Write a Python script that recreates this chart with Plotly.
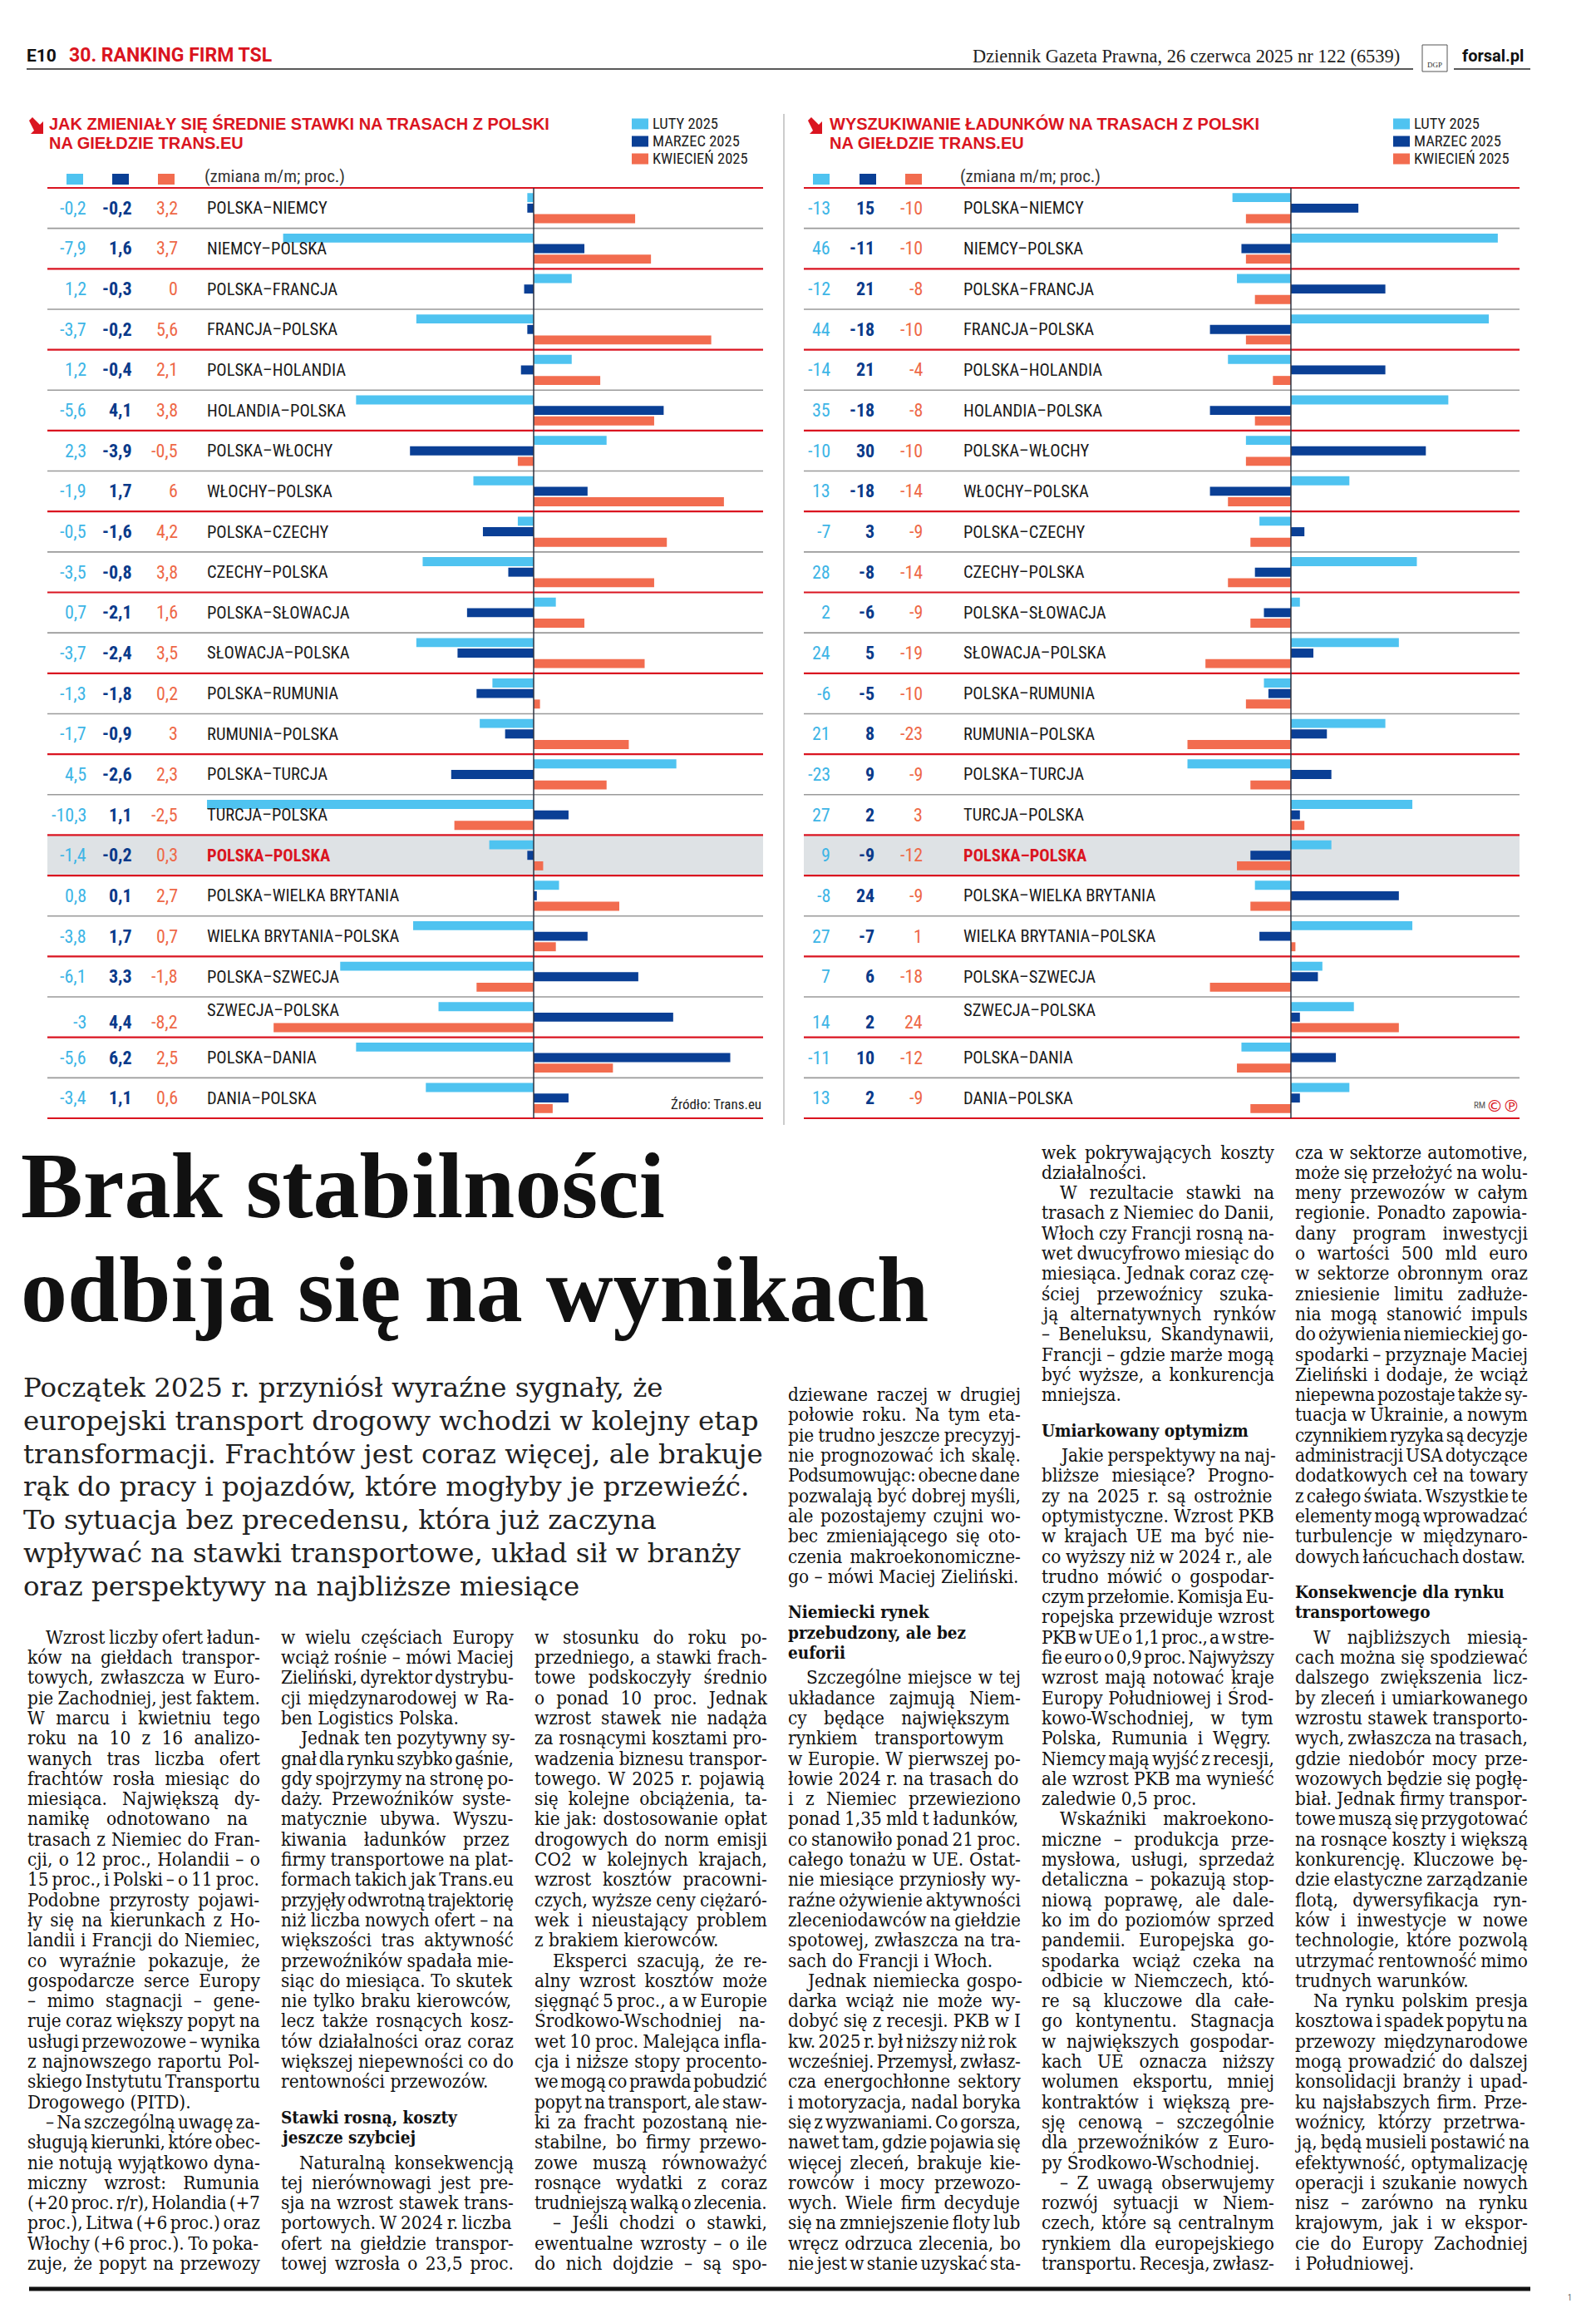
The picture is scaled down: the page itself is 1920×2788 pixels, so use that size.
import os
import glob
import struct
import plotly.graph_objects as go

W, H = 1920, 2788

# ---------------- DATA ----------------
routes = ["POLSKA–NIEMCY", "NIEMCY–POLSKA", "POLSKA–FRANCJA", "FRANCJA–POLSKA",
          "POLSKA–HOLANDIA", "HOLANDIA–POLSKA", "POLSKA–WŁOCHY", "WŁOCHY–POLSKA",
          "POLSKA–CZECHY", "CZECHY–POLSKA", "POLSKA–SŁOWACJA", "SŁOWACJA–POLSKA",
          "POLSKA–RUMUNIA", "RUMUNIA–POLSKA", "POLSKA–TURCJA", "TURCJA–POLSKA",
          "POLSKA–POLSKA", "POLSKA–WIELKA BRYTANIA", "WIELKA BRYTANIA–POLSKA",
          "POLSKA–SZWECJA", "SZWECJA–POLSKA", "POLSKA–DANIA", "DANIA–POLSKA"]
months = ["LUTY 2025", "MARZEC 2025", "KWIECIEŃ 2025"]

rates_luty = [-0.2, -7.9, 1.2, -3.7, 1.2, -5.6, 2.3, -1.9, -0.5, -3.5, 0.7, -3.7,
              -1.3, -1.7, 4.5, -10.3, -1.4, 0.8, -3.8, -6.1, -3, -5.6, -3.4]
rates_marzec = [-0.2, 1.6, -0.3, -0.2, -0.4, 4.1, -3.9, 1.7, -1.6, -0.8, -2.1, -2.4,
                -1.8, -0.9, -2.6, 1.1, -0.2, 0.1, 1.7, 3.3, 4.4, 6.2, 1.1]
rates_kwiecien = [3.2, 3.7, 0, 5.6, 2.1, 3.8, -0.5, 6, 4.2, 3.8, 1.6, 3.5,
                  0.2, 3, 2.3, -2.5, 0.3, 2.7, 0.7, -1.8, -8.2, 2.5, 0.6]

search_luty = [-13, 46, -12, 44, -14, 35, -10, 13, -7, 28, 2, 24,
               -6, 21, -23, 27, 9, -8, 27, 7, 14, -11, 13]
search_marzec = [15, -11, 21, -18, 21, -18, 30, -18, 3, -8, -6, 5,
                 -5, 8, 9, 2, -9, 24, -7, 6, 2, 10, 2]
search_kwiecien = [-10, -10, -8, -10, -4, -8, -10, -14, -9, -14, -9, -19,
                   -10, -23, -9, 3, -12, -9, 1, -18, 24, -12, -9]

title_left = ["JAK ZMIENIAŁY SIĘ ŚREDNIE STAWKI NA TRASACH Z POLSKI", "NA GIEŁDZIE TRANS.EU"]
title_right = ["WYSZUKIWANIE ŁADUNKÓW NA TRASACH Z POLSKI", "NA GIEŁDZIE TRANS.EU"]

headline = ["Brak stabilności", "odbija się na wynikach"]
lead = ["Początek 2025 r. przyniósł wyraźne sygnały, że",
        "europejski transport drogowy wchodzi w kolejny etap",
        "transformacji. Frachtów jest coraz więcej, ale brakuje",
        "rąk do pracy i pojazdów, które mogłyby je przewieźć.",
        "To sytuacja bez precedensu, która już zaczyna",
        "wpływać na stawki transportowe, układ sił w branży",
        "oraz perspektywy na najbliższe miesiące"]

# "^" = paragraph indent, "#" = bold subheading, "" = empty line
col1 = ["^Wzrost liczby ofert ładun-", "ków na giełdach transpor-", "towych, zwłaszcza w Euro-",
        "pie Zachodniej, jest faktem.", "W marcu i kwietniu tego", "roku na 10 z 16 analizo-",
        "wanych tras liczba ofert", "frachtów rosła miesiąc do", "miesiąca. Największą dy-",
        "namikę odnotowano na", "trasach z Niemiec do Fran-", "cji, o 12 proc., Holandii – o",
        "15 proc., i Polski – o 11 proc.", "Podobne przyrosty pojawi-", "ły się na kierunkach z Ho-",
        "landii i Francji do Niemiec,", "co wyraźnie pokazuje, że", "gospodarcze serce Europy",
        "– mimo stagnacji – gene-", "ruje coraz większy popyt na", "usługi przewozowe – wynika",
        "z najnowszego raportu Pol-", "skiego Instytutu Transportu", "Drogowego (PITD).",
        "^– Na szczególną uwagę za-", "sługują kierunki, które obec-", "nie notują wyjątkowo dyna-",
        "miczny wzrost: Rumunia", "(+20 proc. r/r), Holandia (+7", "proc.), Litwa (+6 proc.) oraz",
        "Włochy (+6 proc.). To poka-", "zuje, że popyt na przewozy"]
col2 = ["w wielu częściach Europy", "wciąż rośnie – mówi Maciej", "Zieliński, dyrektor dystrybu-",
        "cji międzynarodowej w Ra-", "ben Logistics Polska.", "^Jednak ten pozytywny sy-",
        "gnał dla rynku szybko gaśnie,", "gdy spojrzymy na stronę po-", "daży. Przewoźników syste-",
        "matycznie ubywa. Wyszu-", "kiwania ładunków przez", "firmy transportowe na plat-",
        "formach takich jak Trans.eu", "przyjęły odwrotną trajektorię", "niż liczba nowych ofert – na",
        "większości tras aktywność", "przewoźników spadała mie-", "siąc do miesiąca. To skutek",
        "nie tylko braku kierowców,", "lecz także rosnących kosz-", "tów działalności oraz coraz",
        "większej niepewności co do", "rentowności przewozów.", "",
        "#Stawki rosną, koszty", "#jeszcze szybciej", "^Naturalną konsekwencją",
        "tej nierównowagi jest pre-", "sja na wzrost stawek trans-", "portowych. W 2024 r. liczba",
        "ofert na giełdzie transpor-", "towej wzrosła o 23,5 proc."]
col3 = ["w stosunku do roku po-", "przedniego, a stawki frach-", "towe podskoczyły średnio",
        "o ponad 10 proc. Jednak", "wzrost stawek nie nadąża", "za rosnącymi kosztami pro-",
        "wadzenia biznesu transpor-", "towego. W 2025 r. pojawią", "się kolejne obciążenia, ta-",
        "kie jak: dostosowanie opłat", "drogowych do norm emisji", "CO2 w kolejnych krajach,",
        "wzrost kosztów pracowni-", "czych, wyższe ceny ciężaró-", "wek i nieustający problem",
        "z brakiem kierowców.", "^Eksperci szacują, że re-", "alny wzrost kosztów może",
        "sięgnąć 5 proc., a w Europie", "Środkowo-Wschodniej na-", "wet 10 proc. Malejąca infla-",
        "cja i niższe stopy procento-", "we mogą co prawda pobudzić", "popyt na transport, ale staw-",
        "ki za fracht pozostaną nie-", "stabilne, bo firmy przewo-", "zowe muszą równoważyć",
        "rosnące wydatki z coraz", "trudniejszą walką o zlecenia.", "^– Jeśli chodzi o stawki,",
        "ewentualne wzrosty – o ile", "do nich dojdzie – są spo-"]
col4 = ["dziewane raczej w drugiej", "połowie roku. Na tym eta-", "pie trudno jeszcze precyzyj-",
        "nie prognozować ich skalę.", "Podsumowując: obecne dane", "pozwalają być dobrej myśli,",
        "ale pozostajemy czujni wo-", "bec zmieniającego się oto-", "czenia makroekonomiczne-",
        "go – mówi Maciej Zieliński.", "", "#Niemiecki rynek", "#przebudzony, ale bez", "#euforii",
        "^Szczególne miejsce w tej", "układance zajmują Niem-", "cy będące największym",
        "rynkiem transportowym", "w Europie. W pierwszej po-", "łowie 2024 r. na trasach do",
        "i z Niemiec przewieziono", "ponad 1,35 mld t ładunków,", "co stanowiło ponad 21 proc.",
        "całego tonażu w UE. Ostat-", "nie miesiące przyniosły wy-", "raźne ożywienie aktywności",
        "zleceniodawców na giełdzie", "spotowej, zwłaszcza na tra-", "sach do Francji i Włoch.",
        "^Jednak niemiecka gospo-", "darka wciąż nie może wy-", "dobyć się z recesji. PKB w I",
        "kw. 2025 r. był niższy niż rok", "wcześniej. Przemysł, zwłasz-", "cza energochłonne sektory",
        "i motoryzacja, nadal boryka", "się z wyzwaniami. Co gorsza,", "nawet tam, gdzie pojawia się",
        "więcej zleceń, brakuje kie-", "rowców i mocy przewozo-", "wych. Wiele firm decyduje",
        "się na zmniejszenie floty lub", "wręcz odrzuca zlecenia, bo", "nie jest w stanie uzyskać sta-"]
col5 = ["wek pokrywających koszty", "działalności.", "^W rezultacie stawki na",
        "trasach z Niemiec do Danii,", "Włoch czy Francji rosną na-", "wet dwucyfrowo miesiąc do",
        "miesiąca. Jednak coraz czę-", "ściej przewoźnicy szuka-", "ją alternatywnych rynków",
        "– Beneluksu, Skandynawii,", "Francji – gdzie marże mogą", "być wyższe, a konkurencja",
        "mniejsza.", "", "#Umiarkowany optymizm", "^Jakie perspektywy na naj-",
        "bliższe miesiące? Progno-", "zy na 2025 r. są ostrożnie", "optymistyczne. Wzrost PKB",
        "w krajach UE ma być nie-", "co wyższy niż w 2024 r., ale", "trudno mówić o gospodar-",
        "czym przełomie. Komisja Eu-", "ropejska przewiduje wzrost", "PKB w UE o 1,1 proc., a w stre-",
        "fie euro o 0,9 proc. Najwyższy", "wzrost mają notować kraje", "Europy Południowej i Środ-",
        "kowo-Wschodniej, w tym", "Polska, Rumunia i Węgry.", "Niemcy mają wyjść z recesji,",
        "ale wzrost PKB ma wynieść", "zaledwie 0,5 proc.", "^Wskaźniki makroekono-",
        "miczne – produkcja prze-", "mysłowa, usługi, sprzedaż", "detaliczna – pokazują stop-",
        "niową poprawę, ale dale-", "ko im do poziomów sprzed", "pandemii. Europejska go-",
        "spodarka wciąż czeka na", "odbicie w Niemczech, któ-", "re są kluczowe dla całe-",
        "go kontynentu. Stagnacja", "w największych gospodar-", "kach UE oznacza niższy",
        "wolumen eksportu, mniej", "kontraktów i większą pre-", "sję cenową – szczególnie",
        "dla przewoźników z Euro-", "py Środkowo-Wschodniej.", "^– Z uwagą obserwujemy",
        "rozwój sytuacji w Niem-", "czech, które są centralnym", "rynkiem dla europejskiego",
        "transportu. Recesja, zwłasz-"]
col6 = ["cza w sektorze automotive,", "może się przełożyć na wolu-", "meny przewozów w całym",
        "regionie. Ponadto zapowia-", "dany program inwestycji", "o wartości 500 mld euro",
        "w sektorze obronnym oraz", "zniesienie limitu zadłuże-", "nia mogą stanowić impuls",
        "do ożywienia niemieckiej go-", "spodarki – przyznaje Maciej", "Zieliński i dodaje, że wciąż",
        "niepewna pozostaje także sy-", "tuacja w Ukrainie, a nowym", "czynnikiem ryzyka są decyzje",
        "administracji USA dotyczące", "dodatkowych ceł na towary", "z całego świata. Wszystkie te",
        "elementy mogą wprowadzać", "turbulencje w międzynaro-", "dowych łańcuchach dostaw.", "",
        "#Konsekwencje dla rynku", "#transportowego", "^W najbliższych miesią-",
        "cach można się spodziewać", "dalszego zwiększenia licz-", "by zleceń i umiarkowanego",
        "wzrostu stawek transporto-", "wych, zwłaszcza na trasach,", "gdzie niedobór mocy prze-",
        "wozowych będzie się pogłę-", "biał. Jednak firmy transpor-", "towe muszą się przygotować",
        "na rosnące koszty i większą", "konkurencję. Kluczowe bę-", "dzie elastyczne zarządzanie",
        "flotą, dywersyfikacja ryn-", "ków i inwestycje w nowe", "technologie, które pozwolą",
        "utrzymać rentowność mimo", "trudnych warunków.", "^Na rynku polskim presja",
        "kosztowa i spadek popytu na", "przewozy międzynarodowe", "mogą prowadzić do dalszej",
        "konsolidacji branży i upad-", "ku najsłabszych firm. Prze-", "woźnicy, którzy przetrwa-",
        "ją, będą musieli postawić na", "efektywność, optymalizację", "operacji i szukanie nowych",
        "nisz – zarówno na rynku", "krajowym, jak i w ekspor-", "cie do Europy Zachodniej",
        "i Południowej."]
columns = [col1, col2, col3, col4, col5, col6]

# ---------------- STYLE ----------------
C_LIGHT, C_DARK, C_ORANGE = "#4FC3F0", "#0A3F95", "#F26C4F"
T_LIGHT, T_DARK, T_ORANGE = "#3DB5E6", "#0A3A8A", "#EE6847"
RED = "#DA1420"
GRAY_LINE = "#9A9A9A"
SANS = "Liberation Sans Narrow, Roboto Condensed, Roboto"

ROW_TOP, ROW_BOT = 218.0, 1337.0
ROW_H = (ROW_BOT - ROW_TOP) / len(routes)


# ---------- font metrics (for justified body text) ----------
def find_font(name):
    for base in ["/usr/share/fonts", "/usr/local/share/fonts",
                 os.path.expanduser("~/.fonts"), os.path.expanduser("~/.local/share/fonts")]:
        try:
            hits = glob.glob(os.path.join(base, "**", name), recursive=True)
        except Exception:
            hits = []
        if hits:
            return hits[0]
    return None


def load_metrics(path):
    with open(path, "rb") as f:
        data = f.read()
    num = struct.unpack(">H", data[4:6])[0]
    tables = {}
    for i in range(num):
        tag, _, off, ln = struct.unpack(">4sIII", data[12 + 16 * i:28 + 16 * i])
        tables[tag.decode("latin-1")] = off
    head = tables["head"]
    upem = struct.unpack(">H", data[head + 18:head + 20])[0]
    hhea = tables["hhea"]
    nhm = struct.unpack(">H", data[hhea + 34:hhea + 36])[0]
    hmtx = tables["hmtx"]
    adv = [struct.unpack(">H", data[hmtx + 4 * i:hmtx + 4 * i + 2])[0] for i in range(nhm)]
    cmap = tables["cmap"]
    nsub = struct.unpack(">H", data[cmap + 2:cmap + 4])[0]
    sub = None
    for i in range(nsub):
        pid, eid, off = struct.unpack(">HHI", data[cmap + 4 + 8 * i:cmap + 12 + 8 * i])
        fmt_ = struct.unpack(">H", data[cmap + off:cmap + off + 2])[0]
        if fmt_ == 4 and (sub is None or (pid == 3 and eid == 1)):
            sub = cmap + off
    seg2 = struct.unpack(">H", data[sub + 6:sub + 8])[0]
    seg = seg2 // 2
    ends = struct.unpack(">%dH" % seg, data[sub + 14:sub + 14 + seg2])
    starts = struct.unpack(">%dH" % seg, data[sub + 16 + seg2:sub + 16 + 2 * seg2])
    deltas = struct.unpack(">%dh" % seg, data[sub + 16 + 2 * seg2:sub + 16 + 3 * seg2])
    rpos = sub + 16 + 3 * seg2
    roffs = struct.unpack(">%dH" % seg, data[rpos:rpos + seg2])
    cache = {}

    def glyph(c):
        for i in range(seg):
            if ends[i] >= c:
                if starts[i] > c:
                    return 0
                if roffs[i] == 0:
                    return (c + deltas[i]) & 0xFFFF
                addr = rpos + 2 * i + roffs[i] + 2 * (c - starts[i])
                g = struct.unpack(">H", data[addr:addr + 2])[0]
                return (g + deltas[i]) & 0xFFFF if g else 0
        return 0

    def adv_of(ch):
        if ch not in cache:
            g = glyph(ord(ch))
            cache[ch] = (adv[g] if g < nhm else adv[-1]) / upem
        return cache[ch]

    def width(s, size):
        return sum(adv_of(ch) for ch in s) * size

    return width


BODY_FAMILY, width_fn = "DejaVu Serif", None
try:
    cond = find_font("DejaVuSerifCondensed.ttf")
    reg = find_font("DejaVuSerif.ttf")
    if cond:
        BODY_FAMILY, width_fn = "DejaVu Serif Condensed", load_metrics(cond)
    elif reg:
        width_fn = load_metrics(reg)
except Exception:
    width_fn = None

COL_W = 280.0
body_lines = [l.lstrip("^") for c in columns for l in c if l and not l.startswith("#")]
if width_fn:
    ws_ = sorted(width_fn(l, 1.0) for l in body_lines)
    BODY_SIZE = COL_W / ws_[int(len(ws_) * 0.68)]
    BODY_SIZE = max(18.0, min(25.0, BODY_SIZE))
else:
    BODY_SIZE = 20.0


def px(x):
    return x / W


def py(y):
    return 1 - y / H


annotations = []
shapes = []


def txt(x, y, text, size, color="#1a1a1a", family=SANS, xanchor="left",
        yanchor="middle", weight="normal", align="left"):
    annotations.append(dict(xref="paper", yref="paper", x=px(x), y=py(y), text=text,
                            showarrow=False, xanchor=xanchor, yanchor=yanchor, align=align,
                            font=dict(size=size, color=color, family=family, weight=weight)))


def line(x0, y0, x1, y1, color, width):
    shapes.append(dict(type="line", xref="paper", yref="paper", x0=px(x0), x1=px(x1),
                       y0=py(y0), y1=py(y1), line=dict(color=color, width=width)))


def rect(x0, y0, x1, y1, fill, layer="above", lc=None, lw=0):
    shapes.append(dict(type="rect", xref="paper", yref="paper", x0=px(x0), x1=px(x1),
                       y0=py(y0), y1=py(y1), fillcolor=fill, layer=layer,
                       line=dict(width=lw, color=lc or fill)))


def fmt(v):
    return f"{v:g}".replace(".", ",")


def arrow_icon(x, y):
    # bold red arrow pointing down-right (box ~18x20 px, top-left at x,y)
    pts = [(x + 0, y + 4), (x + 4, y + 0), (x + 13, y + 9), (x + 17, y + 5),
           (x + 17, y + 20), (x + 2, y + 20), (x + 6, y + 16)]
    d = "M " + " L ".join(f"{px(a):.6f},{py(b):.6f}" for a, b in pts) + " Z"
    shapes.append(dict(type="path", xref="paper", yref="paper", path=d,
                       fillcolor=RED, line=dict(width=0)))


fig = go.Figure()

charts = [
    dict(xa="x", ya="y", series=[rates_luty, rates_marzec, rates_kwiecien],
         left=49, right=910, vcols=[98, 153, 208], label_x=239, sq=[72, 127, 182],
         title_x=49, arrow_x=27, title=title_left, leg_x=752, zm_x=236),
    dict(xa="x2", ya="y2", series=[search_luty, search_marzec, search_kwiecien],
         left=959, right=1820, vcols=[993, 1046, 1104], label_x=1149, sq=[970, 1026, 1081],
         title_x=988, arrow_x=964, title=title_right, leg_x=1668, zm_x=1145),
]
bar_colors = [C_LIGHT, C_DARK, C_ORANGE]
txt_colors = [T_LIGHT, T_DARK, T_ORANGE]

for ch in charts:
    hi = routes.index("POLSKA–POLSKA")
    rect(ch["left"], ROW_TOP + hi * ROW_H, ch["right"], ROW_TOP + (hi + 1) * ROW_H,
         "#DEE2E5", layer="below")
    for s, vals in enumerate(ch["series"]):
        fig.add_trace(go.Bar(x=vals, y=routes, orientation="h", name=months[s],
                             marker=dict(color=bar_colors[s], line=dict(width=0)),
                             xaxis=ch["xa"], yaxis=ch["ya"], showlegend=False,
                             hoverinfo="skip"))
    for b in range(len(routes) + 1):
        if b == 0 or b == 17 or (b <= 16 and b % 2 == 0) or (b > 17 and b % 2 == 1):
            col, wdt = RED, 2.2
        else:
            col, wdt = GRAY_LINE, 1.6
        yb = ROW_TOP + b * ROW_H
        line(ch["left"], yb, ch["right"], yb, col, wdt)
    shapes.append(dict(type="line", xref=ch["xa"], yref="paper", x0=0, x1=0,
                       y0=py(ROW_TOP), y1=py(ROW_BOT), line=dict(color="#2E3442", width=1.5)))
    for i, r in enumerate(routes):
        yc = ROW_TOP + (i + 0.5) * ROW_H
        val_y = yc + 6 if r == "SZWECJA–POLSKA" else yc
        lab_y = yc - 8 if r == "SZWECJA–POLSKA" else yc
        for s, vals in enumerate(ch["series"]):
            txt(ch["vcols"][s], val_y, fmt(vals[i]), 22, txt_colors[s], SANS,
                xanchor="right", weight="bold" if s == 1 else "normal")
        if r == "POLSKA–POLSKA":
            txt(ch["label_x"], lab_y, r, 20.5, RED, SANS, weight="bold")
        else:
            txt(ch["label_x"], lab_y, r, 20.5, "#1a1a1a", SANS)
    for s in range(3):
        rect(ch["sq"][s], 201, ch["sq"][s] + 20, 214, bar_colors[s])
    txt(ch["zm_x"], 204, "(zmiana m/m; proc.)", 21, "#333333", SANS)
    arrow_icon(ch["arrow_x"], 133)
    txt(ch["title_x"], 140.5, ch["title"][0], 20, RED, "Liberation Sans", weight="bold")
    txt(ch["title_x"], 164, ch["title"][1], 20, RED, "Liberation Sans", weight="bold")
    for s in range(3):
        yl = 141 + s * 21
        rect(ch["leg_x"], yl - 6.5, ch["leg_x"] + 20, yl + 6.5, bar_colors[s])
        txt(ch["leg_x"] + 23, yl, months[s], 18.5, "#222222", SANS)

txt(910, 1320, "Źródło: Trans.eu", 17, "#222222", SANS, xanchor="right")
txt(1781, 1322, "RM", 11, "#555555", SANS, xanchor="right")
txt(1822, 1322, "©℗", 20, RED, "DejaVu Sans", xanchor="right")

line(935, 129, 935, 1345, "#9A9A9A", 1)

# ---------------- PAGE HEADER ----------------
txt(22, 59, "E10", 21, "#111111", "Roboto", weight="bold")
txt(73, 59, "30. RANKING FIRM TSL", 23, RED, "Roboto", weight="bold")
txt(1678, 60, "Dziennik Gazeta Prawna, 26 czerwca 2025 nr 122 (6539)", 22.4, "#222222",
    "Liberation Serif", xanchor="right")
rect(1703, 46, 1733, 78, "rgba(0,0,0,0)", lc="#555555", lw=1)
txt(1718, 70, "DGP", 9, "#333333", "Liberation Serif", xanchor="center")
txt(1749, 59, "forsal.pl", 20, "#111111", "Roboto", weight="bold")
line(24, 75, 1692, 75, "#222222", 1.5)
line(1741, 75, 1833, 75, "#222222", 1.5)

# ---------------- ARTICLE ----------------
txt(15, 1418, headline[0], 112, "#111111", "Liberation Serif", weight="bold")
txt(15, 1543, headline[1], 112, "#111111", "Liberation Serif", weight="bold")
for i, ln in enumerate(lead):
    txt(18, 1661 + i * 39.8, ln, 32.5, "#222222", "DejaVu Serif")

col_x = [23, 328, 633, 938, 1243, 1548]
LAST_Y, LH = 2714.0, 24.3
for cx, col in zip(col_x, columns):
    n = len(col)
    for k, raw in enumerate(col):
        if not raw:
            continue
        y = LAST_Y - (n - 1 - k) * LH
        x = cx
        ln = raw
        indent = 0
        if ln.startswith("^"):
            ln = ln[1:]
            indent = 22
        if ln.startswith("#"):
            txt(x, y - 5, "<b>" + ln[1:] + "</b>", min(BODY_SIZE, 20.5), "#111111",
                BODY_FAMILY, weight="bold")
            continue
        nxt = col[k + 1] if k + 1 < n else None
        last_of_par = (nxt is not None and (nxt == "" or nxt[0] in "^#")) or \
                      (col is col6 and k == n - 1)
        text = ln
        if width_fn:
            natural = width_fn(ln, BODY_SIZE)
            target = COL_W - indent
            nsp = ln.count(" ")
            space_w = width_fn(" ", BODY_SIZE)
            if last_of_par:
                extra = min(0.0, target - natural)
            else:
                extra = target - natural
            ws = extra / nsp if nsp else 0.0
            ls = 0.0
            if ws < -0.45 * space_w:
                ws = -0.45 * space_w
                rem = extra - ws * nsp
                ls = rem / max(1, len(ln) - 1)
            if ws > 14:
                ws = 14
            if ws or ls:
                style = f"word-spacing:{ws:.2f}px"
                if ls:
                    style += f";letter-spacing:{ls:.2f}px"
                text = f'<span style="{style}">{ln}</span>'
        txt(x + indent, y, text, BODY_SIZE, "#111111", BODY_FAMILY)

line(27, 2745, 1833, 2745, "#111111", 5)
txt(1880, 2755, "1", 10, "#666666", SANS, xanchor="center")

fig.update_layout(
    width=W, height=H, margin=dict(l=0, r=0, t=0, b=0),
    paper_bgcolor="white", plot_bgcolor="rgba(0,0,0,0)",
    barmode="group", bargap=0.22, bargroupgap=0.14,
    annotations=annotations, shapes=shapes,
    xaxis=dict(domain=[px(200), px(910)], range=[-11.376, 7.235], visible=False,
               fixedrange=True),
    yaxis=dict(domain=[py(ROW_BOT), py(ROW_TOP)], type="category",
               categoryorder="array", categoryarray=routes, range=[22.5, -0.5],
               visible=False, fixedrange=True),
    xaxis2=dict(domain=[px(1150), px(1820)], range=[-73.0, 50.83], visible=False,
                anchor="y2", fixedrange=True),
    yaxis2=dict(domain=[py(ROW_BOT), py(ROW_TOP)], type="category",
                categoryorder="array", categoryarray=routes, range=[22.5, -0.5],
                visible=False, anchor="x2", fixedrange=True),
    showlegend=False,
)

fig.write_html("out.html")
